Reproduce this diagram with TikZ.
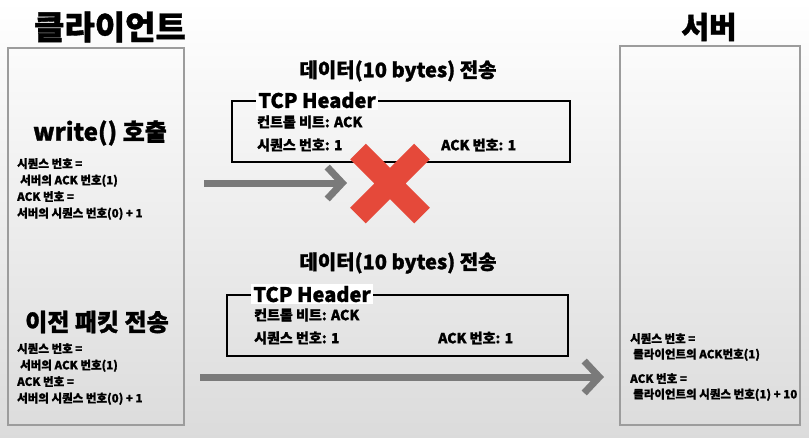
\documentclass[tikz,border=0pt]{standalone}
\usepackage{fontspec}
\setmainfont{Noto Sans CJK KR}[BoldFeatures={FakeBold=1.2}]
\usetikzlibrary{positioning,arrows.meta,shapes.misc}
\definecolor{xarrow}{HTML}{7A7A7A}
\definecolor{xbad}{HTML}{E5493A}
\definecolor{xframe}{HTML}{9C9C9C}
\newcommand{\fsz}[2]{\fontsize{#1}{#2}\selectfont}

\begin{document}
\begin{tikzpicture}[
  x=1pt,y=-1pt,
  상자/.style={draw=xframe,line width=1.6pt,minimum width=176pt,minimum height=377pt,inner sep=0pt},
  제목/.style={inner sep=0pt,font=\bfseries\fsz{33}{36}},
  동작/.style={inner sep=0pt,font=\bfseries\fsz{24}{28}},
  전송/.style={inner sep=0pt,font=\bfseries\fsz{20}{23}},
  헤더/.style={draw,line width=1.8pt,minimum width=338pt,minimum height=61pt,inner sep=0pt},
  이름/.style={fill=white,inner sep=2pt,font=\bfseries\fsz{20}{22}},
  줄/.style={anchor=west,inner sep=0pt,font=\bfseries\fsz{14}{16}},
  글/.style={anchor=north west,align=left,inner sep=0pt,font=\bfseries\fsz{11.5}{16.5}},
  화살/.style={xarrow,line width=7pt,-{Straight Barb[length=15pt,width=32pt]}}
]
\useasboundingbox (0,0) rectangle (809,437);
\shade[top color=white,middle color=white,bottom color=gray!28] (0,0) rectangle (809,437);

% 클라이언트 / 서버
\node[상자] (k) at (96,236.5) {};
\node[상자,minimum width=180pt,minimum height=379pt] (s) at (710,235.5) {};
\node[제목] (kt) at (110,27) {클라이언트};
\node[제목,font=\bfseries\fsz{30}{34}] (st) at (709,27) {서버};

\node[동작] (w) at (100,133) {write() 호출};
\node[글] (wn) at (17,158) {시퀀스 번호 =\\\hspace{3pt}서버의 ACK 번호(1)\\ACK 번호 =\\서버의 시퀀스 번호(0) + 1};
\node[동작] (r) at (97,322) {이전 패킷 전송};
\node[글] (rn) at (17,343) {시퀀스 번호 =\\\hspace{3pt}서버의 ACK 번호(1)\\ACK 번호 =\\서버의 시퀀스 번호(0) + 1};
\node[글,font=\bfseries\fsz{11.5}{15.5}] (sn) at (630,333) {시퀀스 번호 =\\\hspace{3pt}클라이언트의 ACK번호(1)\\[9pt]ACK 번호 =\\\hspace{3pt}클라이언트의 시퀀스 번호(1) + 10};

% 첫 번째 패킷 (유실)
\node[헤더] (p1) at (401,131.5) {};
\node[전송] (t1) at (398,71) {데이터(10 bytes) 전송};
\node[이름,anchor=west] (h1) at ([xshift=25pt]p1.north west) {TCP Header};
\node[줄] (c1) at (257,122) {컨트롤 비트: ACK};
\node[줄] (q1) at (257,145) {시퀀스 번호: 1};
\node[줄] (a1) at (441,145) {ACK 번호: 1};

% 두 번째 패킷 (재전송)
\node[헤더,minimum width=341pt] (p2) at (397.5,325.5) {};
\node[전송] (t2) at (398,263) {데이터(10 bytes) 전송};
\node[이름,anchor=west] (h2) at ([xshift=25pt]p2.north west) {TCP Header};
\node[줄] (c2) at (254,315) {컨트롤 비트: ACK};
\node[줄] (q2) at (254,338) {시퀀스 번호: 1};
\node[줄] (a2) at (438,338) {ACK 번호: 1};

\coordinate (u1) at (204,183);
\coordinate (v1) at (347,183);
\coordinate (u2) at (200,377);
\coordinate (v2) at (604,377);
\draw[화살] (u1) -- (v1);
\draw[화살] (u2) -- (v2);

\node[cross out,draw=xbad,line width=22pt,minimum size=64pt,inner sep=0pt,outer sep=0pt] (x) at (390,183.5) {};
\end{tikzpicture}
\end{document}
